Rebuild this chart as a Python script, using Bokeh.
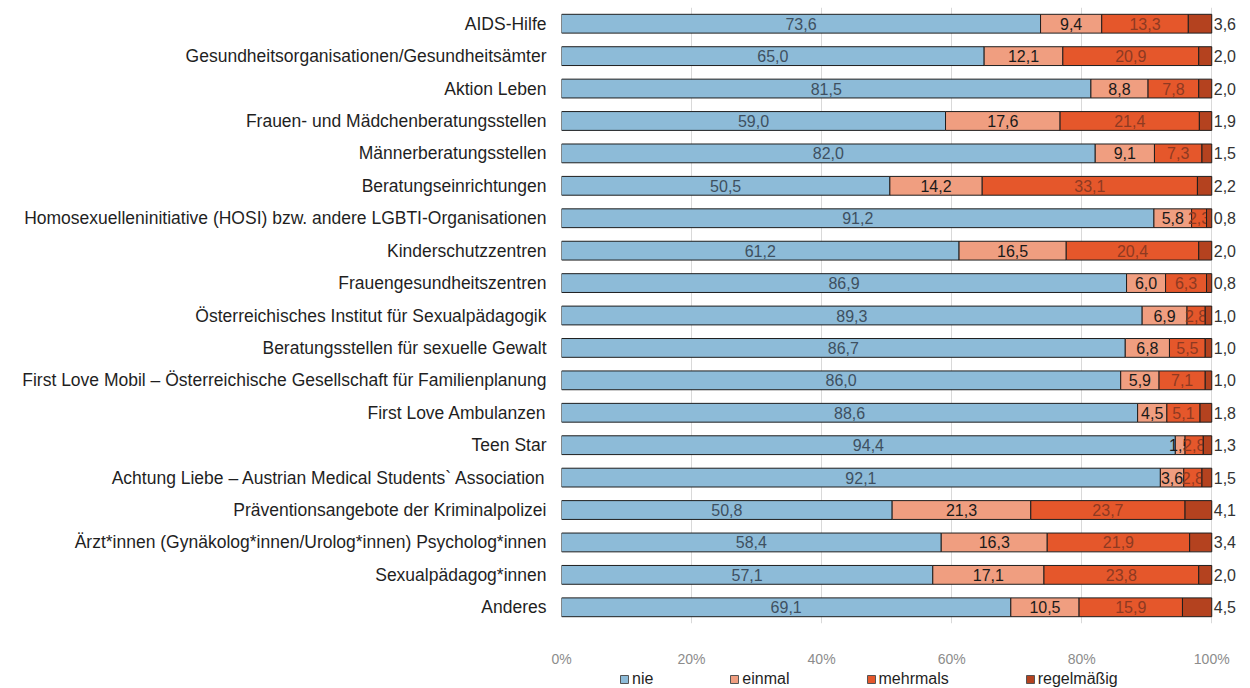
from bokeh.plotting import figure
from bokeh.layouts import column
from bokeh.models import ColumnDataSource, FactorRange, Range1d, Legend, LegendItem, FixedTicker, PrintfTickFormatter
from bokeh.core.properties import value
from bokeh.embed import file_html
from bokeh.resources import INLINE

categories = [
    "AIDS-Hilfe",
    "Gesundheitsorganisationen/Gesundheitsämter",
    "Aktion Leben",
    "Frauen- und Mädchenberatungsstellen",
    "Männerberatungsstellen",
    "Beratungseinrichtungen",
    "Homosexuelleninitiative (HOSI) bzw. andere LGBTI-Organisationen",
    "Kinderschutzzentren",
    "Frauengesundheitszentren",
    "Österreichisches Institut für Sexualpädagogik",
    "Beratungsstellen für sexuelle Gewalt",
    "First Love Mobil – Österreichische Gesellschaft für Familienplanung",
    "First Love Ambulanzen",
    "Teen Star",
    "Achtung Liebe – Austrian Medical Students` Association",
    "Präventionsangebote der Kriminalpolizei",
    "Ärzt*innen (Gynäkolog*innen/Urolog*innen) Psycholog*innen",
    "Sexualpädagog*innen",
    "Anderes",
]
nie = [73.6, 65.0, 81.5, 59.0, 82.0, 50.5, 91.2, 61.2, 86.9, 89.3, 86.7, 86.0, 88.6, 94.4, 92.1, 50.8, 58.4, 57.1, 69.1]
einmal = [9.4, 12.1, 8.8, 17.6, 9.1, 14.2, 5.8, 16.5, 6.0, 6.9, 6.8, 5.9, 4.5, 1.5, 3.6, 21.3, 16.3, 17.1, 10.5]
mehrmals = [13.3, 20.9, 7.8, 21.4, 7.3, 33.1, 2.3, 20.4, 6.3, 2.8, 5.5, 7.1, 5.1, 2.8, 2.8, 23.7, 21.9, 23.8, 15.9]
regelmaessig = [3.6, 2.0, 2.0, 1.9, 1.5, 2.2, 0.8, 2.0, 0.8, 1.0, 1.0, 1.0, 1.8, 1.3, 1.5, 4.1, 3.4, 2.0, 4.5]
series_names = ["nie", "einmal", "mehrmals", "regelmäßig"]
x_ticks = [0, 20, 40, 60, 80, 100]

colors = ["#8DBBD8", "#F09E80", "#E5572B", "#B4421F"]
label_colors = ["#3E5061", "#1A1A1A", "#8E3A22", "#333333"]
FONT = "Liberation Sans"

series = [nie, einmal, mehrmals, regelmaessig]
totals = [sum(s[i] for s in series) for i in range(len(categories))]
norm = [[s[i] / totals[i] * 100 for i in range(len(categories))] for s in series]

def fmt(v):
    return f"{v:.1f}".replace(".", ",")

p = figure(
    width=1250, height=669,
    y_range=FactorRange(factors=list(reversed(categories)), range_padding=0),
    x_range=Range1d(0, 105.5),
    output_backend="svg", toolbar_location=None,
    min_border_left=561, min_border_right=3, min_border_top=7, min_border_bottom=44,
)
p.outline_line_color = None
p.background_fill_color = "white"

# legend strip below the chart (hidden copies of the series, used only for the legend glyphs)
lg = figure(width=1250, height=19,
            y_range=FactorRange(factors=list(reversed(categories)), range_padding=0),
            x_range=Range1d(0, 105.5),
            output_backend="svg", toolbar_location=None,
            min_border_left=561, min_border_right=3, min_border_top=0, min_border_bottom=0)
lg.axis.visible = False
lg.grid.visible = False
lg.outline_line_color = None

lefts = [0.0] * len(categories)
leg_renderers = []
for k, (name, vals) in enumerate(zip(series_names, norm)):
    rights = [l + v for l, v in zip(lefts, vals)]
    src = ColumnDataSource(dict(y=categories, left=lefts, right=rights,
                                mid=[(l + r) / 2 for l, r in zip(lefts, rights)],
                                txt=[fmt(v) for v in series[k]]))
    p.hbar(y="y", left="left", right="right", height=0.58, source=src,
           fill_color=colors[k], line_color="#1E1E1E", line_width=1)
    lr = lg.hbar(y="y", left="left", right="right", height=0.58, source=src,
                 fill_color=colors[k], line_color="#555555", line_width=1)
    lr.visible = False
    leg_renderers.append(lr)
    if k < 3:
        p.text(x="mid", y="y", text="txt", source=src, text_align="center", text_baseline="middle",
               text_font=value(FONT), text_font_size="16px", text_color=label_colors[k])
    else:
        p.text(x="right", y="y", text="txt", source=src, text_align="left", text_baseline="middle",
               x_offset=2, text_font=value(FONT), text_font_size="16px", text_color=label_colors[k])
    lefts = rights

p.xaxis.ticker = FixedTicker(ticks=x_ticks)
p.xaxis.formatter = PrintfTickFormatter(format="%d%%")
p.xaxis.axis_line_color = None
p.xaxis.major_tick_line_color = None
p.xaxis.minor_tick_line_color = None
p.xaxis.major_tick_out = 0
p.xaxis.minor_tick_out = 0
p.xaxis.major_label_text_font = FONT
p.xaxis.major_label_text_font_size = "14px"
p.xaxis.major_label_text_color = "#8C8C8C"
p.xaxis.major_label_standoff = 27

p.yaxis.axis_line_color = None
p.yaxis.major_tick_line_color = None
p.yaxis.minor_tick_line_color = None
p.yaxis.major_tick_out = 0
p.yaxis.minor_tick_out = 0
p.yaxis.major_label_text_font = FONT
p.yaxis.major_label_text_font_size = "17.5px"
p.yaxis.major_label_text_color = "#1F1F1F"
p.yaxis.major_label_standoff = 15

p.xgrid.grid_line_color = "#D9D9D9"
p.ygrid.grid_line_color = None

legend = Legend(
    items=[LegendItem(label=n, renderers=[r]) for n, r in zip(series_names, leg_renderers)],
    orientation="horizontal", location=(58, 0),
    label_text_font=FONT, label_text_font_size="16px", label_text_color="#1F1F1F",
    glyph_width=10, glyph_height=10, label_standoff=3, spacing=76,
    label_height=16, inactive_fill_alpha=0,
    border_line_color=None, background_fill_alpha=0, margin=0, padding=1,
)
lg.add_layout(legend, "center")

layout = column(p, lg, spacing=0)
open("out.html", "w").write(file_html(layout, INLINE))
